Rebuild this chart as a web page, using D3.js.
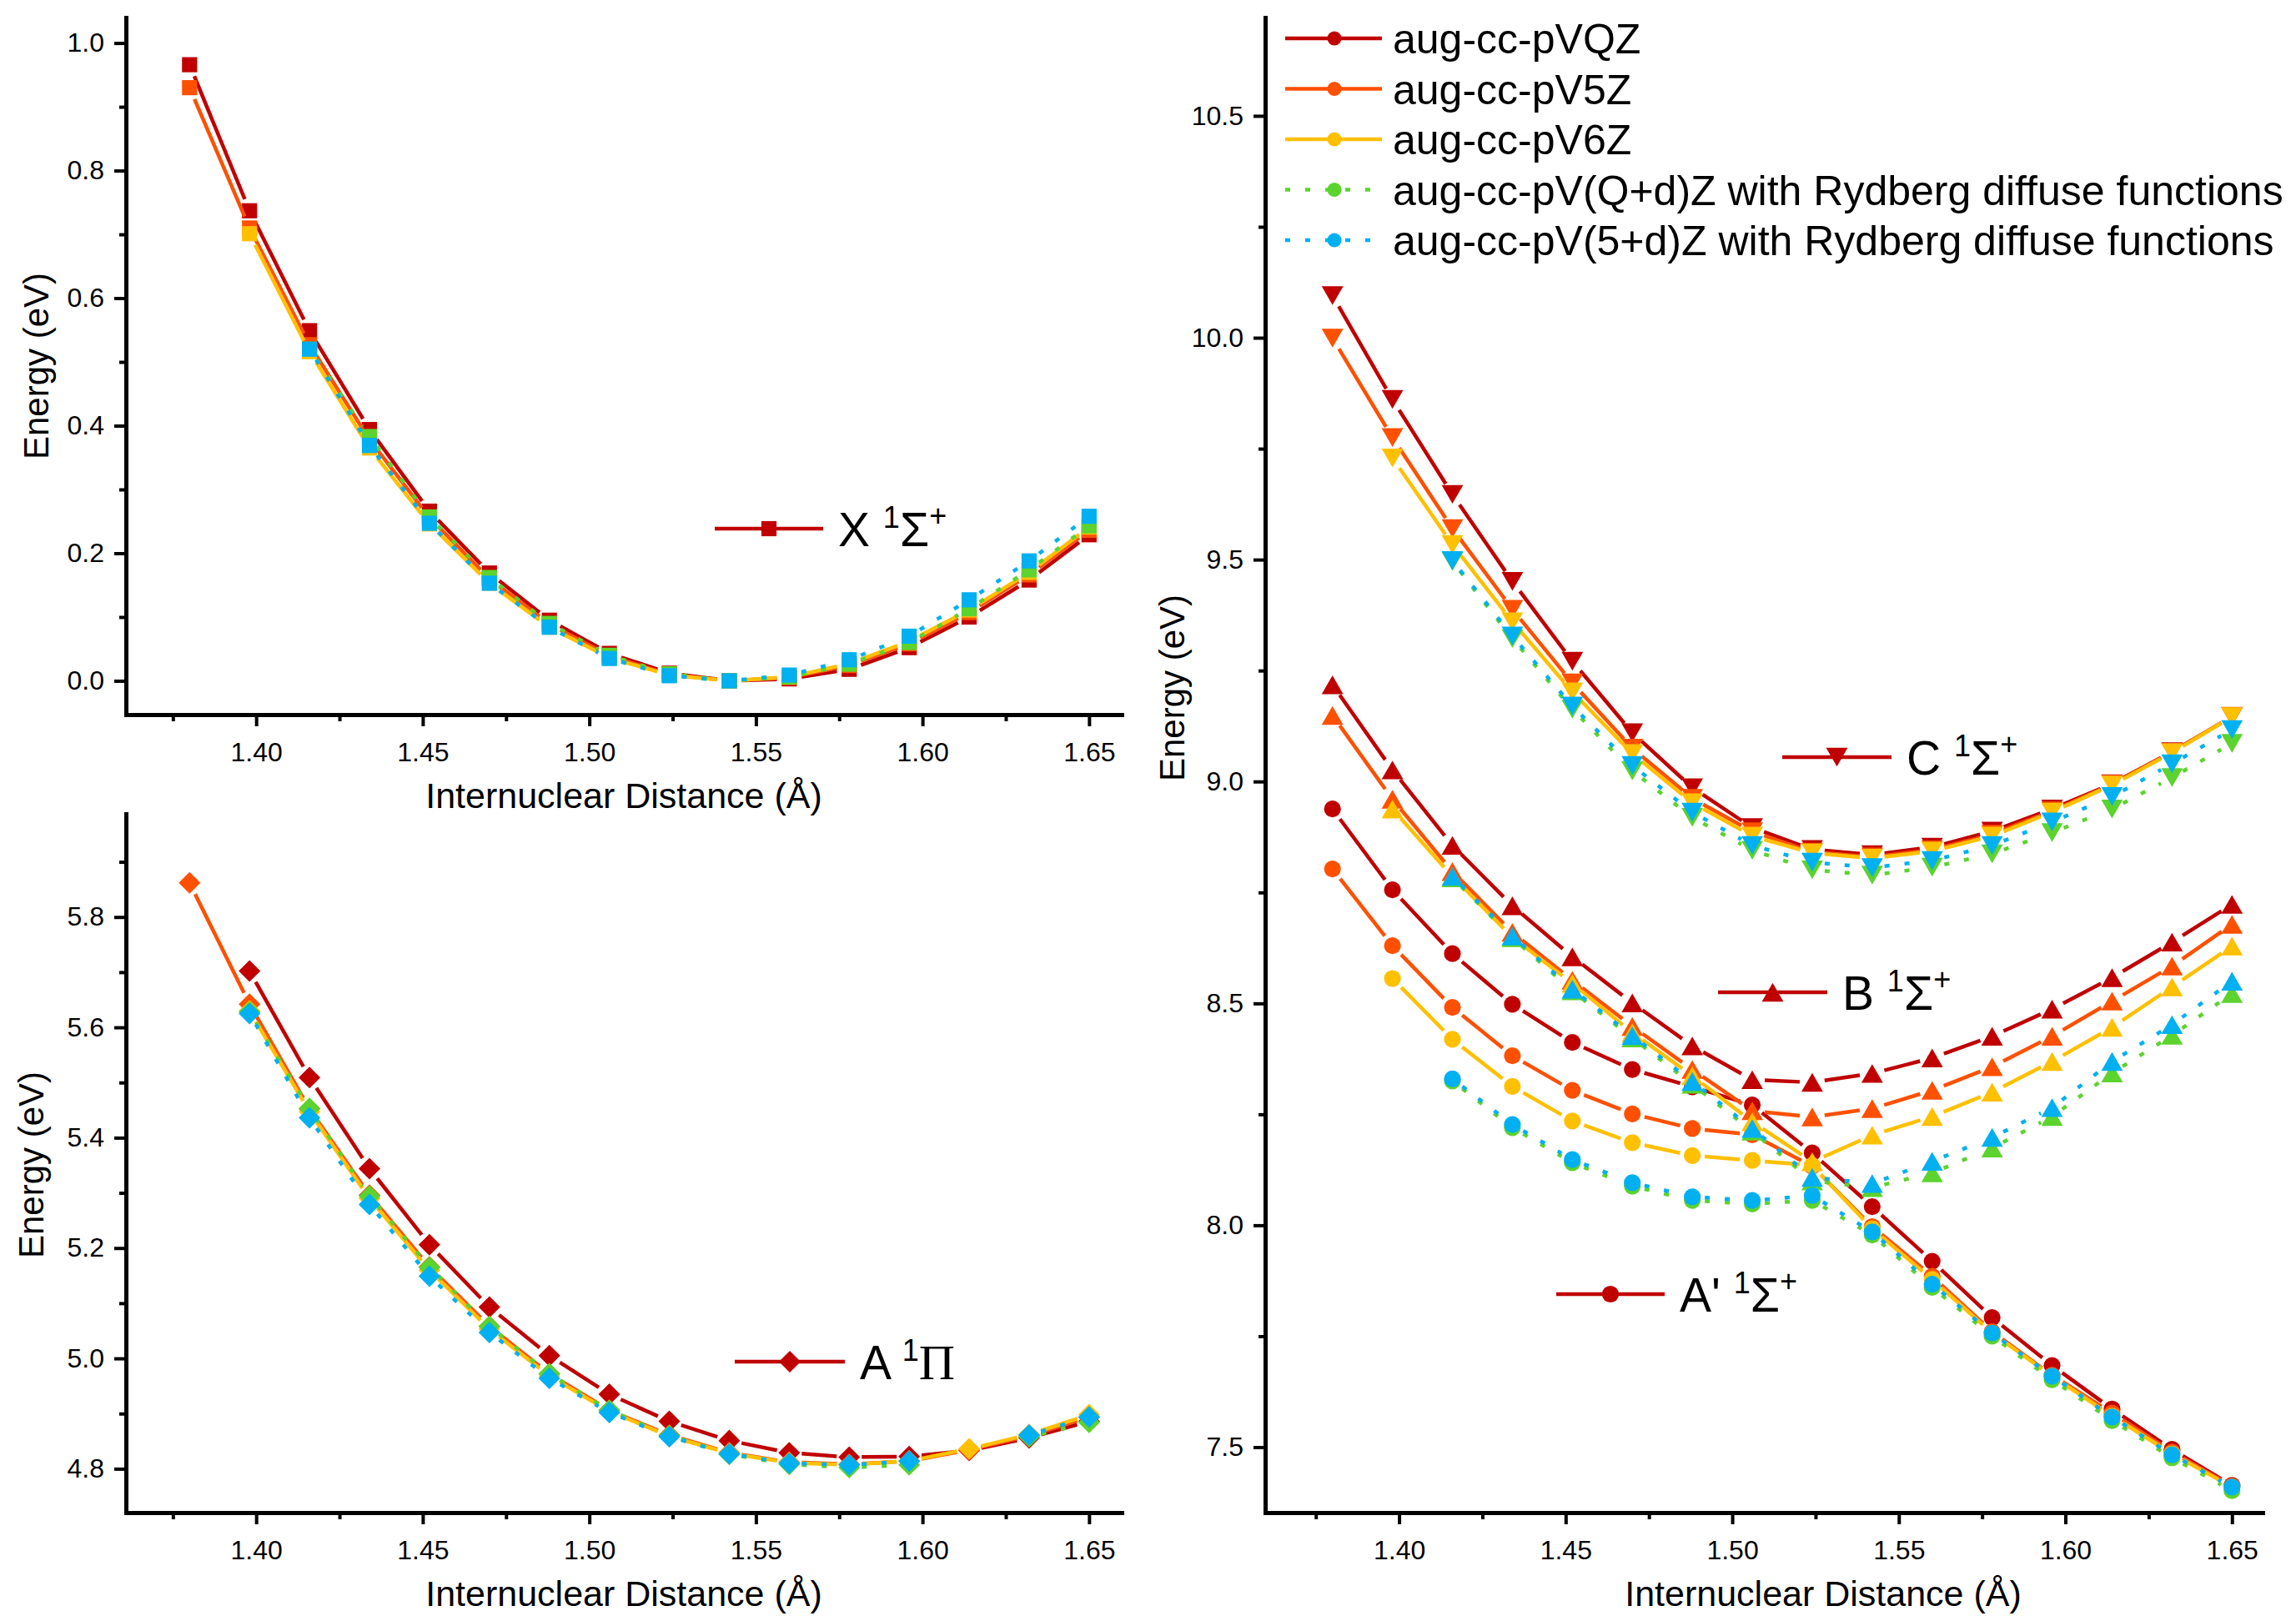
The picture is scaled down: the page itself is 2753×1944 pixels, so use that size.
<!DOCTYPE html>
<html><head><meta charset="utf-8">
<script src="https://cdn.jsdelivr.net/npm/d3@7"></script>
<style>body{margin:0;background:#fff}svg{display:block}</style>
</head><body>
<svg id="chart" width="2753" height="1944"></svg>
<script>
// ---------------- DATA ----------------
const distances = [1.38,1.398,1.416,1.434,1.452,1.47,1.488,1.506,1.524,1.542,1.56,1.578,1.596,1.614,1.632,1.65];
const basisSets = ["aug-cc-pVQZ","aug-cc-pV5Z","aug-cc-pV6Z",
  "aug-cc-pV(Q+d)Z with Rydberg diffuse functions","aug-cc-pV(5+d)Z with Rydberg diffuse functions"];

// X 1Σ+ (relative energy, eV)
const X_VQZ = [0.966,0.737,0.549,0.394,0.266,0.169,0.095,0.043,0.012,0.000,0.003,0.018,0.052,0.100,0.158,0.229];
const X_V5Z = [0.930,0.710,0.527,0.378,0.256,0.160,0.089,0.039,0.010,0.000,0.005,0.024,0.058,0.107,0.166,0.236];
const X_V6Z = [null,0.701,0.516,0.365,0.246,0.153,0.084,0.036,0.009,0.000,0.006,0.027,0.062,0.111,0.170,0.241];
const X_Qd  = [null,null,0.520,0.383,0.257,0.162,0.090,0.040,0.011,0.000,0.006,0.026,0.060,0.113,0.174,0.243];
const X_5d  = [null,null,0.520,0.369,0.247,0.153,0.084,0.035,0.008,0.000,0.009,0.033,0.070,0.127,0.188,0.258];

// A 1Π
const A_VQZ = [null,5.702,5.509,5.344,5.206,5.093,5.005,4.935,4.886,4.851,4.829,4.821,4.822,4.833,4.856,4.886];
const A_V5Z = [5.862,5.642,5.452,5.296,5.166,5.058,4.972,4.906,4.861,4.829,4.812,4.808,4.814,4.834,4.860,4.893];
const A_V6Z = [null,5.630,5.447,5.290,5.160,5.053,4.968,4.904,4.859,4.828,4.811,4.807,4.814,4.836,4.862,4.898];
const A_Qd  = [null,5.628,5.453,5.294,5.165,5.058,4.972,4.906,4.860,4.826,4.808,4.802,4.807,null,4.858,4.884];
const A_5d  = [null,5.625,5.436,5.279,5.149,5.047,4.964,4.902,4.858,4.827,4.810,4.807,4.814,null,4.861,4.894];

// C 1Σ+
const C_VQZ = [10.095,9.861,9.647,9.451,9.271,9.110,8.986,8.896,8.847,8.835,8.852,8.888,8.938,8.995,9.067,9.146];
const C_V5Z = [9.999,9.775,9.570,9.388,9.222,9.075,8.962,8.887,8.841,8.830,8.846,8.881,8.934,8.994,9.066,9.147];
const C_V6Z = [null,9.729,9.534,9.360,9.202,9.063,8.952,8.877,8.839,8.827,8.843,8.877,8.931,8.992,9.065,9.146];
const C_Qd  = [null,null,9.496,9.322,9.163,9.024,8.919,8.845,8.801,8.789,8.807,8.837,8.885,8.938,9.009,9.086];
const C_5d  = [null,null,9.498,9.328,9.170,9.036,8.931,8.856,8.818,8.806,8.822,8.856,8.909,8.966,9.040,9.117];

// B 1Σ+
const B_VQZ = [9.218,9.026,8.856,8.720,8.605,8.501,8.404,8.328,8.322,8.342,8.377,8.426,8.487,8.558,8.638,8.723];
const B_V5Z = [9.149,8.960,8.797,8.660,8.552,8.448,8.351,8.258,8.244,8.263,8.304,8.357,8.426,8.505,8.584,8.678];
const B_V6Z = [null,8.938,8.786,8.649,8.545,8.434,8.337,8.233,8.143,8.203,8.245,8.300,8.369,8.446,8.537,8.629];
const B_Qd  = [null,null,8.783,8.648,8.528,8.422,8.318,8.212,8.100,8.085,8.118,8.174,8.245,8.343,8.428,8.522];
const B_5d  = [null,null,8.786,8.652,8.532,8.427,8.324,8.218,8.108,8.094,8.144,8.198,8.265,8.369,8.452,8.550];

// A' 1Σ+
const Ap_VQZ = [8.938,8.756,8.612,8.498,8.412,8.351,8.312,8.271,8.163,8.042,7.919,7.792,7.684,7.586,7.495,7.414];
const Ap_V5Z = [8.803,8.630,8.491,8.382,8.304,8.251,8.218,8.204,8.133,7.997,7.885,7.760,7.662,7.577,7.489,7.412];
const Ap_V6Z = [null,8.556,8.419,8.313,8.235,8.186,8.157,8.146,8.135,7.992,7.878,7.757,7.660,7.570,7.485,7.410];
const Ap_Qd  = [null,null,8.325,8.220,8.141,8.088,8.056,8.048,8.056,7.978,7.860,7.750,7.652,7.560,7.476,7.402];
const Ap_5d  = [null,null,8.330,8.227,8.148,8.096,8.064,8.056,8.067,7.985,7.867,7.757,7.660,7.568,7.483,7.410];

// tick values
const xMajorTicks = [1.40,1.45,1.50,1.55,1.60,1.65];
const xMinorTicks = [1.375,1.425,1.475,1.525,1.575,1.625];
const yTicksX  = [0.0,0.2,0.4,0.6,0.8,1.0];
const yMinorX  = [0.1,0.3,0.5,0.7,0.9];
const yTicksA  = [4.8,5.0,5.2,5.4,5.6,5.8];
const yMinorA  = [4.9,5.1,5.3,5.5,5.7,5.9];
const yTicksR  = [7.5,8.0,8.5,9.0,9.5,10.0,10.5];
const yMinorR  = [7.75,8.25,8.75,9.25,9.75,10.25];

const axisTitleX = "Internuclear Distance (Å)";
const axisTitleY = "Energy (eV)";

// ---------------- STYLE ----------------
const FONT = '"Liberation Sans", Arial, sans-serif';
const colors = ["#C00000","#FF5000","#FFC000","#5CD32E","#00B0F0"];
const dashes = [null,null,null,"6 18","6 18"];

const markerTypes = {
  square: {draw(c,s){const h=Math.sqrt(s)/2;c.rect(-h,-h,2*h,2*h);}},
  diamond:{draw(c,s){const r=Math.sqrt(s/2);c.moveTo(0,-r);c.lineTo(r,0);c.lineTo(0,r);c.lineTo(-r,0);c.closePath();}},
  circle: d3.symbolCircle,
  triUp:  {draw(c,s){const w=Math.sqrt(s*4/Math.sqrt(3)),h=w*Math.sqrt(3)/2;c.moveTo(0,-h/2);c.lineTo(w/2,h/2);c.lineTo(-w/2,h/2);c.closePath();}},
  triDown:{draw(c,s){const w=Math.sqrt(s*4/Math.sqrt(3)),h=w*Math.sqrt(3)/2;c.moveTo(0,h/2);c.lineTo(w/2,-h/2);c.lineTo(-w/2,-h/2);c.closePath();}}
};
const markerSize = {square:330, diamond:340, circle:320, triUp:290, triDown:290};

const svg = d3.select("#chart");
svg.append("rect").attr("width",2753).attr("height",1944).attr("fill","#fff");

const panels = [
  {left:151,right:1345,top:21,bottom:857, xDom:[1.3609,1.6598], yDom:[-0.053,1.04],
   yMajor:yTicksX, yMinor:yMinorX, yFmt:d3.format(".1f"),
   xTitle:[748,969], yTitle:[58,439],
   states:[{sets:[X_VQZ,X_V5Z,X_V6Z,X_Qd,X_5d], marker:"square"}]},
  {left:151,right:1345,top:976,bottom:1814, xDom:[1.3609,1.6598], yDom:[4.7205,5.987],
   yMajor:yTicksA, yMinor:yMinorA, yFmt:d3.format(".1f"),
   xTitle:[748,1926], yTitle:[52,1397],
   states:[{sets:[A_VQZ,A_V5Z,A_V6Z,A_Qd,A_5d], marker:"diamond"}]},
  {left:1517,right:2713,top:21,bottom:1814, xDom:[1.3598,1.6592], yDom:[7.3525,10.7216],
   yMajor:yTicksR, yMinor:yMinorR, yFmt:d3.format(".1f"),
   xTitle:[2186,1926], yTitle:[1420,825],
   states:[{sets:[C_VQZ,C_V5Z,C_V6Z,C_Qd,C_5d], marker:"triDown"},
           {sets:[B_VQZ,B_V5Z,B_V6Z,B_Qd,B_5d], marker:"triUp"},
           {sets:[Ap_VQZ,Ap_V5Z,Ap_V6Z,Ap_Qd,Ap_5d], marker:"circle"}]}
];

function segmentPath(pts, gap){
  let d = "";
  for(let i=0;i<pts.length-1;i++){
    const a=pts[i], b=pts[i+1];
    if(!a||!b) continue;
    const dx=b[0]-a[0], dy=b[1]-a[1], L=Math.hypot(dx,dy);
    if(L<=2*gap+1) continue;
    const ux=dx/L, uy=dy/L;
    d += `M${a[0]+ux*gap},${a[1]+uy*gap}L${b[0]-ux*gap},${b[1]-uy*gap}`;
  }
  return d;
}

panels.forEach(p=>{
  const x = d3.scaleLinear().domain(p.xDom).range([p.left,p.right]);
  const y = d3.scaleLinear().domain(p.yDom).range([p.bottom,p.top]);
  const g = svg.append("g");

  colors.forEach((col,bi)=>{
    p.states.forEach(st=>{
      const vals = st.sets[bi];
      const pts = distances.map((dx,i)=> vals[i]==null?null:[x(dx),y(vals[i])]);
      g.append("path").attr("d",segmentPath(pts,15)).attr("fill","none")
        .attr("stroke",col).attr("stroke-width",4.5)
        .attr("stroke-dasharray",dashes[bi]);
      const sym = d3.symbol().type(markerTypes[st.marker]).size(markerSize[st.marker]);
      g.selectAll(null).data(distances.map((dx,i)=>({dx,v:vals[i]})).filter(d=>d.v!=null))
        .enter().append("path").attr("d",sym)
        .attr("transform",d=>`translate(${x(d.dx)},${y(d.v)})`)
        .attr("fill",col);
    });
  });

  g.append("g").attr("transform",`translate(0,${p.bottom})`)
    .call(d3.axisBottom(x).tickValues(xMajorTicks).tickFormat(d3.format(".2f")).tickSize(14).tickSizeOuter(0).tickPadding(19));
  g.append("g").attr("transform",`translate(0,${p.bottom})`)
    .call(d3.axisBottom(x).tickValues(xMinorTicks).tickFormat("").tickSize(8).tickSizeOuter(0))
    .select(".domain").remove();
  g.append("g").attr("transform",`translate(${p.left},0)`)
    .call(d3.axisLeft(y).tickValues(p.yMajor).tickFormat(p.yFmt).tickSize(14).tickSizeOuter(0).tickPadding(12));
  g.append("g").attr("transform",`translate(${p.left},0)`)
    .call(d3.axisLeft(y).tickValues(p.yMinor).tickFormat("").tickSize(8).tickSizeOuter(0))
    .select(".domain").remove();
  g.selectAll(".domain").attr("stroke","#000").attr("stroke-width",5).attr("stroke-linecap","square");
  g.selectAll(".tick line").attr("stroke","#000").attr("stroke-width",4);
  g.selectAll(".tick text").attr("font-family",FONT).attr("font-size",32).attr("fill","#000");

  g.append("text").attr("x",p.xTitle[0]).attr("y",p.xTitle[1]).attr("text-anchor","middle")
    .attr("font-family",FONT).attr("font-size",43).text(axisTitleX);
  g.append("text").attr("transform",`translate(${p.yTitle[0]},${p.yTitle[1]}) rotate(-90)`)
    .attr("text-anchor","middle").attr("font-family",FONT).attr("font-size",42).text(axisTitleY);
});

// ---------------- state keys ----------------
const stateKeys = [
  {x1:857, x2:987, y:634, marker:"square", name:"X", sym:"Σ", plus:true},
  {x1:881, x2:1013, y:1633, marker:"diamond", name:"A", sym:"Π", plus:false, serif:true},
  {x1:2137,x2:2268, y:908, marker:"triDown", name:"C", sym:"Σ", plus:true},
  {x1:2060,x2:2191, y:1190, marker:"triUp", name:"B", sym:"Σ", plus:true},
  {x1:1866,x2:1996, y:1552, marker:"circle", name:"A'", sym:"Σ", plus:true}
];
stateKeys.forEach(k=>{
  svg.append("line").attr("x1",k.x1).attr("x2",k.x2).attr("y1",k.y).attr("y2",k.y)
    .attr("stroke",colors[0]).attr("stroke-width",4.5);
  svg.append("path").attr("d",d3.symbol().type(markerTypes[k.marker]).size(markerSize[k.marker]))
    .attr("transform",`translate(${(k.x1+k.x2)/2},${k.y})`).attr("fill",colors[0]);
  const t = svg.append("text").attr("x",k.x2+18).attr("y",k.y+21)
    .attr("font-family",FONT).attr("font-size",57).attr("fill","#000");
  t.append("tspan").text(k.name+" ");
  t.append("tspan").attr("font-size",36).attr("dy",-22).text("1");
  const s = t.append("tspan").attr("dy",22).text(k.sym);
  if(k.serif) s.attr("font-family",'"Liberation Serif", "Times New Roman", serif').attr("font-size",60);
  if(k.plus) t.append("tspan").attr("font-size",36).attr("dy",-24).text("+");
});

// ---------------- legend ----------------
const legendY0 = 46, legendStep = 60.5;
basisSets.forEach((name,i)=>{
  const yy = legendY0 + i*legendStep;
  svg.append("line").attr("x1",1541).attr("x2",1657).attr("y1",yy).attr("y2",yy)
    .attr("stroke",colors[i]).attr("stroke-width",4.5).attr("stroke-dasharray",dashes[i]);
  svg.append("path").attr("d",d3.symbol().type(d3.symbolCircle).size(230))
    .attr("transform",`translate(1600,${yy})`).attr("fill",colors[i]);
  svg.append("text").attr("x",1670).attr("y",yy+18).attr("font-family",FONT)
    .attr("font-size",50).attr("fill","#000").text(name);
});
</script>
</body></html>
